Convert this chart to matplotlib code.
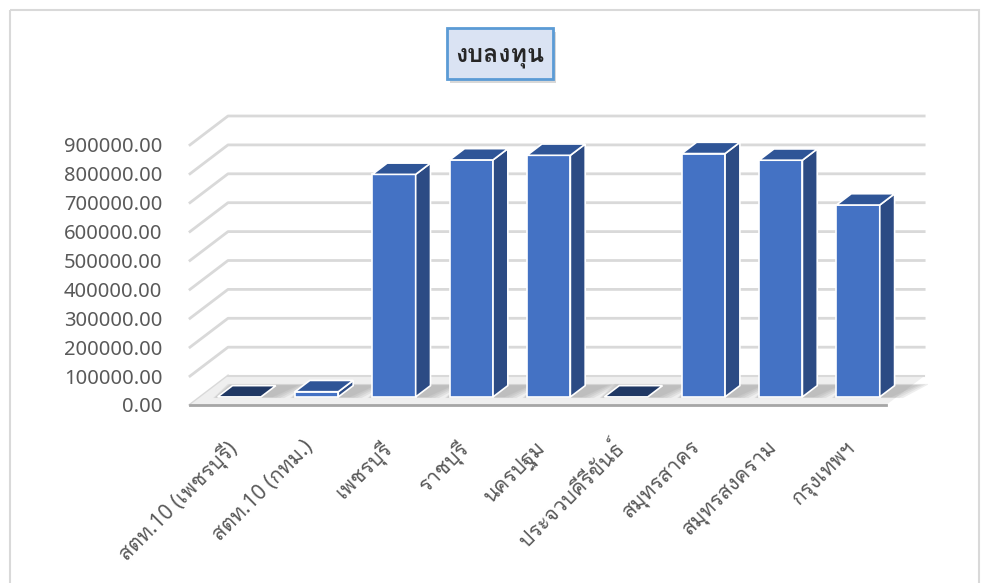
import matplotlib
matplotlib.use('Agg')
import matplotlib.pyplot as plt
from matplotlib import font_manager
from matplotlib.patches import Polygon, Rectangle
import matplotlib.transforms as mtransforms
import numpy as np

# data
categories = ['สตท.10 (เพชรบุรี)', 'สตท.10 (กทม.)', 'เพชรบุรี', 'ราชบุรี', 'นครปฐม',
              'ประจวบคีรีขันธ์', 'สมุทรสาคร', 'สมุทรสงคราม', 'กรุงเทพฯ']
values = [0, 18000, 770000, 820000, 836000, 0, 842000, 819000, 664000]
title = 'งบลงทุน'
yticks = np.arange(0, 900001, 100000)


def find_thai_font():
    from fontTools.ttLib import TTFont
    for f in font_manager.fontManager.ttflist:
        try:
            tt = TTFont(f.fname, fontNumber=0, lazy=True)
            cmap = tt.getBestCmap()
            if cmap and 0x0E01 in cmap and 0x0E35 in cmap:
                return f.name
        except Exception:
            pass
    return None


thai = find_thai_font()
fams = ['Noto Sans'] + ([thai] if thai else []) + ['DejaVu Sans']
plt.rcParams['font.family'] = fams

W, H = 983, 583
fig = plt.figure(figsize=(W / 100, H / 100), dpi=100)

# background layer in pixel coords
bg = fig.add_axes([0, 0, 1, 1])
bg.set_xlim(0, W)
bg.set_ylim(H, 0)
bg.axis('off')
bg.add_patch(Rectangle((10, 10), 969, 600, fill=False, ec='#d9d9d9', lw=1.5))

# plot area (front plane y=0 at px 405, back wall top at px 116)
left, right, bottom, top = 190, 928, 405, 116
ax = fig.add_axes([left / W, (H - bottom) / H, (right - left) / W, (bottom - top) / H])
n = len(categories)
DX = 38 / 77.35          # full depth offset, category units
DY = 100000              # full depth offset, value units
ax.set_xlim(-0.5, -0.5 + (right - left) / 77.35)
ax.set_ylim(0, 1000000)
for s in ax.spines.values():
    s.set_visible(False)
ax.patch.set_alpha(0)

x0, x1 = -0.5, n - 0.5

# floor
ax.add_patch(Polygon([(x0, 0), (x1, 0), (x1 + DX, DY), (x0 + DX, DY)],
                     closed=True, fc='#efefef', ec='none', zorder=1))
ax.plot([x0 + DX, x1 + DX], [DY, DY], color='#d9d9d9', lw=1.5, zorder=1.5,
        clip_on=False)

# back wall gridlines with side wall diagonals
for v in yticks[1:]:
    ax.plot([x0, x0 + DX, x1 + DX], [v, v + DY, v + DY], color='#d9d9d9',
            lw=2, zorder=0.5, clip_on=False)
ax.plot([x0, x0 + DX], [0, DY], color='#d9d9d9', lw=2, zorder=0.5, clip_on=False)

# front floor edge
ax.plot([x0, x1], [0, 0], color='#a6a6a6', lw=2, zorder=6, clip_on=False)

# bars
w = 0.56
d0 = 0.28
dd = 0.39
for i, v in enumerate(values):
    fx0 = i - w / 2 + d0 * DX
    fx1 = i + w / 2 + d0 * DX
    fy0 = d0 * DY
    fy1 = v + d0 * DY
    ox, oy = dd * DX, dd * DY
    # soft shadow on floor
    for k in range(4):
        e = 0.05 * (k + 1)
        ax.add_patch(Polygon([(fx0 - e * 0.3, fy0 - e * 20000), (fx1 + e + 0.1, fy0 - e * 20000),
                              (fx1 + ox + e + 0.25, fy0 + oy + e * 30000),
                              (fx0 + ox - e * 0.3, fy0 + oy + e * 30000)],
                             closed=True, fc='#808080', ec='none', alpha=0.13, zorder=2))
    if v == 0:
        ax.add_patch(Polygon([(fx0, fy1), (fx1, fy1), (fx1 + ox, fy1 + oy), (fx0 + ox, fy1 + oy)],
                             closed=True, fc='#203864', ec='white', lw=1.2, zorder=3))
        continue
    ax.add_patch(Rectangle((fx0, fy0), fx1 - fx0, fy1 - fy0, fc='#4472c4',
                           ec='white', lw=1.2, zorder=4))
    ax.add_patch(Polygon([(fx1, fy0), (fx1 + ox, fy0 + oy), (fx1 + ox, fy1 + oy), (fx1, fy1)],
                         closed=True, fc='#2c4b84', ec='white', lw=1.2, zorder=4))
    ax.add_patch(Polygon([(fx0, fy1), (fx1, fy1), (fx1 + ox, fy1 + oy), (fx0 + ox, fy1 + oy)],
                         closed=True, fc='#2f5597', ec='white', lw=1.2, zorder=4))

# axis labels
ax.set_yticks(yticks)
ax.set_yticklabels([f'{v:.2f}' for v in yticks], color='#595959', fontsize=14.5)
ax.tick_params(axis='y', length=0, pad=20)
ax.set_xticks(range(n))
ax.set_xticklabels(categories, rotation=45, ha='right', rotation_mode='anchor',
                   color='#595959', fontsize=15)
ax.tick_params(axis='x', length=0, pad=23)
off = mtransforms.ScaledTranslation(-3 / 100, 0, fig.dpi_scale_trans)
for lab in ax.get_xticklabels():
    lab.set_transform(lab.get_transform() + off)

# title box with shadow
bg.add_patch(Rectangle((450, 32), 106, 51, fc='#bfbfbf', ec='none', alpha=0.6))
bg.add_patch(Rectangle((447, 28), 106, 51, fc='#dae3f3', ec='#5b9bd5', lw=2))
bg.text(500, 55, title, ha='center', va='center', fontsize=18, fontweight='bold',
        color='#262626')

fig.savefig('out.png', dpi=100)
